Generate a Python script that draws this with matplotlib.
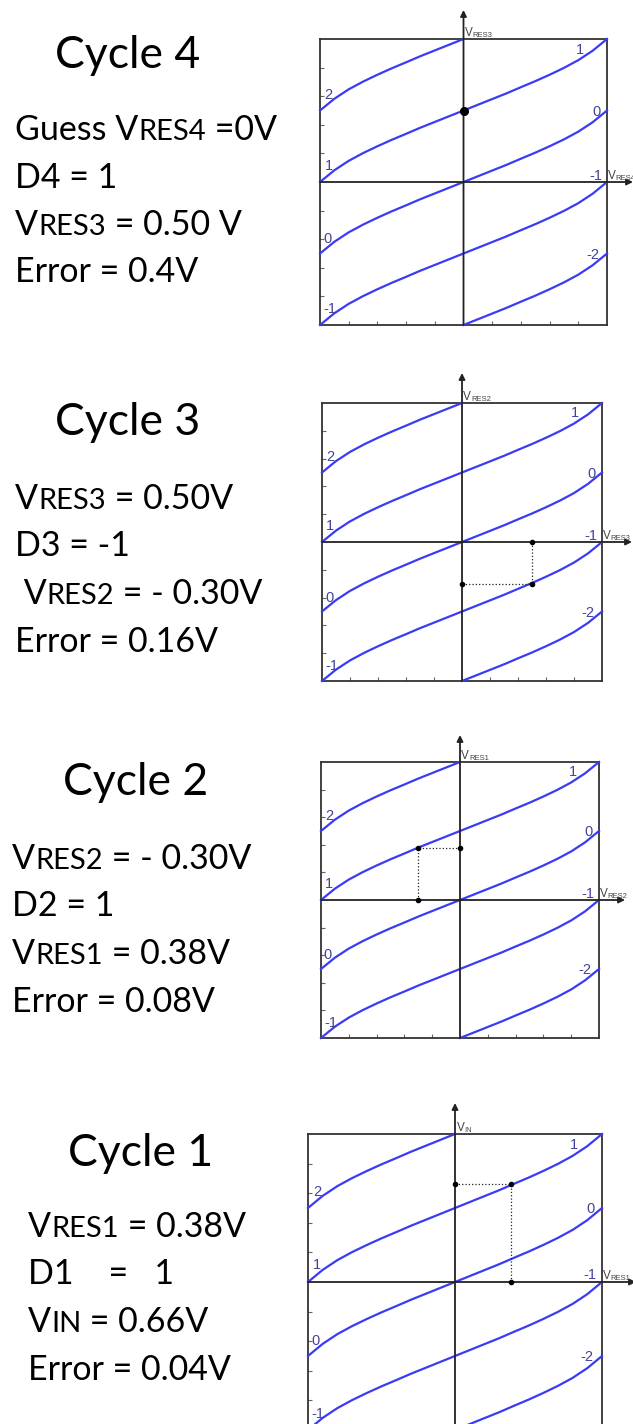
import re
import matplotlib.pyplot as plt

# residue curve shape f(x) on [-1, 1], normalised units
res_x = [-1.0, -0.9, -0.8, -0.7, -0.6, -0.5, -0.4, -0.3, -0.2, -0.1, 0.0,
         0.1, 0.2, 0.3, 0.4, 0.5, 0.6, 0.7, 0.8, 0.9, 1.0]
res_f = [-0.5, -0.418, -0.352, -0.298, -0.25, -0.205, -0.163, -0.12, -0.08, -0.04, 0.0,
         0.04, 0.08, 0.12, 0.163, 0.205, 0.25, 0.298, 0.352, 0.418, 0.5]

# decision codes: each branch is f(x) + code/2 over its own x range
codes = [2, 1, 0, -1, -2]
code_xmin = [-1.0, -1.0, -1.0, -1.0, 0.0]
code_xmax = [0.0, 1.0, 1.0, 1.0, 1.0]

# one panel per conversion cycle
titles = ['Cycle 4', 'Cycle 3', 'Cycle 2', 'Cycle 1']
text_lines = [
    ['Guess VRES4 =0V', 'D4 = 1', 'VRES3 = 0.50 V', 'Error = 0.4V'],
    ['VRES3 = 0.50V', 'D3 = -1', ' VRES2 = - 0.30V', 'Error = 0.16V'],
    ['VRES2 = - 0.30V', 'D2 = 1', 'VRES1 = 0.38V', 'Error = 0.08V'],
    ['VRES1 = 0.38V', 'D1    =   1', 'VIN = 0.66V', 'Error = 0.04V'],
]
x_names = ['RES4', 'RES3', 'RES2', 'RES1']
y_names = ['RES3', 'RES2', 'RES1', 'IN']
x_vals = [0.0, 0.50, -0.30, 0.38]
y_vals = [0.50, -0.30, 0.38, 0.66]

# layout in pixels: plot box (left, top, right, bottom), arrow tips, text anchors
W, H = 633, 1424
boxes = [(320, 39, 607, 325), (322, 403, 602, 681), (321, 762, 599, 1038), (308, 1134, 602, 1430)]
arrow_top = [10, 373, 735, 1103]
arrow_right = [633, 632, 625, 636]
title_pos = [(55, 68), (55, 435), (63, 795), (68, 1166)]
body_pos = [(15, 140), (15, 509), (12, 869), (28, 1237)]
line_step = 47.5
body_size = 24.5
small_size = 21

left_lbl = [('2', -0.94, 0.61), ('1', -0.94, 0.115), ('0', -0.95, -0.40), ('-1', -0.93, -0.89)]
right_lbl = [('1', 0.81, 0.925), ('0', 0.925, 0.49), ('-1', 0.92, 0.045), ('-2', 0.90, -0.51)]

curve_col = '#3b3bf5'
lbl_col = '#43439c'
axis_col = '#333333'
text_font = ['Lato', 'DejaVu Sans']

fig = plt.figure(figsize=(W / 100, H / 100), dpi=100)
renderer = fig.canvas.get_renderer()


def draw_line(x_px, y_px, line):
    # "RESn" / "IN" after V are set a bit smaller
    parts = re.split(r'(?<=V)(RES\d|IN)', line)
    for k, part in enumerate(parts):
        if not part:
            continue
        size = small_size if k % 2 else body_size
        t = fig.text(x_px / W, 1 - y_px / H, part, fontsize=size, family=text_font,
                     ha='left', va='baseline')
        x_px += t.get_window_extent(renderer).width


for i in range(4):
    l, t, r, b = boxes[i]
    ax = fig.add_axes([l / W, 1 - b / H, (r - l) / W, (b - t) / H])
    ax.set_xlim(-1, 1)
    ax.set_ylim(-1, 1)
    for s in ax.spines.values():
        s.set_color(axis_col)
        s.set_linewidth(1.3)
    ax.set_xticks([-0.8, -0.6, -0.4, -0.2, 0.2, 0.4, 0.6, 0.8])
    ax.set_yticks([-0.8, -0.6, -0.4, -0.2, 0.2, 0.4, 0.6, 0.8])
    ax.tick_params(direction='in', length=3, width=0.8, color='#666666',
                   labelbottom=False, labelleft=False)

    # residue branches
    for c, lo, hi in zip(codes, code_xmin, code_xmax):
        xs = [x for x in res_x if lo <= x <= hi]
        ys = [f + c / 2 for x, f in zip(res_x, res_f) if lo <= x <= hi]
        ax.plot(xs, ys, color=curve_col, lw=1.6, zorder=3, clip_on=False)

    for txt, x, y in left_lbl + right_lbl:
        ax.text(x, y, txt, color=lbl_col, fontsize=10.5, family='Liberation Sans',
                ha='center', va='center', zorder=4)

    # axes with arrows, drawn past the box
    hx = (r - l) / 2
    hy = (b - t) / 2
    ytip = 1 + (t - arrow_top[i]) / hy
    xtip = 1 + (arrow_right[i] - r) / hx
    ax.annotate('', xy=(0, ytip), xytext=(0, -1), annotation_clip=False,
                arrowprops=dict(arrowstyle='-|>', color='#222222', lw=1.3,
                                mutation_scale=9, shrinkA=0, shrinkB=0))
    ax.annotate('', xy=(xtip, 0), xytext=(-1, 0), annotation_clip=False,
                arrowprops=dict(arrowstyle='-|>', color='#222222', lw=1.3,
                                mutation_scale=9, shrinkA=0, shrinkB=0))

    # axis names: big V with small suffix
    tv = ax.text(0.01, 1.0, 'V', fontsize=8.5, color='#444444', family='Liberation Sans',
                 ha='left', va='bottom', clip_on=False)
    ax.annotate(y_names[i], xy=(1, 0), xycoords=tv, fontsize=5.5, color='#444444',
                family='Liberation Sans', ha='left', va='bottom', annotation_clip=False)
    th = ax.text(1.005, 0.0, 'V', fontsize=8.5, color='#444444', family='Liberation Sans',
                 ha='left', va='bottom', clip_on=False)
    ax.annotate(x_names[i], xy=(1, 0), xycoords=th, fontsize=5.5, color='#444444',
                family='Liberation Sans', ha='left', va='bottom', annotation_clip=False)

    # operating point of this cycle
    xv, yv = x_vals[i], y_vals[i]
    if xv == 0:
        ax.plot([xv], [yv], 'o', color='black', ms=5.5, zorder=5)
    else:
        ax.plot([xv, xv], [0, yv], ls=':', color='#222222', lw=0.9, zorder=4)
        ax.plot([0, xv], [yv, yv], ls=':', color='#222222', lw=0.9, zorder=4)
        ax.plot([xv, xv, 0], [0, yv, yv], 'o', color='black', ms=3, zorder=5)

    # text block on the left
    tx, ty = title_pos[i]
    fig.text(tx / W, 1 - ty / H, titles[i], fontsize=32, family=text_font,
             ha='left', va='baseline')
    bx, by = body_pos[i]
    for k, line in enumerate(text_lines[i]):
        draw_line(bx, by + k * line_step, line)

fig.savefig('out.png', dpi=100)
